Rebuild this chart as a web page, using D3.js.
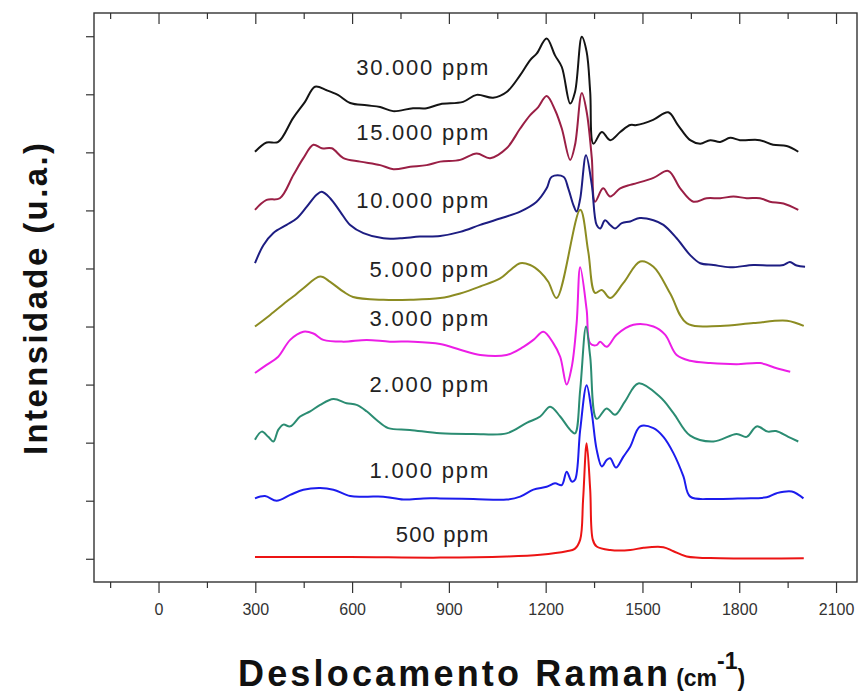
<!DOCTYPE html>
<html>
<head>
<meta charset="utf-8">
<script src="https://cdn.jsdelivr.net/npm/d3@7"></script>
<style>
body { margin: 0; background: #fff; }
svg { display: block; font-family: "Liberation Sans", Arial, sans-serif; }
.axis path { display: none; }
.axis line { stroke: #333; stroke-width: 1.2; }
.axis text { fill: #333; font-size: 16px; }
.spectrum { fill: none; stroke-width: 2; stroke-linejoin: round; }
.conc { fill: #222; font-size: 22px; }
</style>
</head>
<body>
<div id="chart"></div>
<script>
"use strict";

// Raman spectra, [shift (cm-1), intensity above the stacking offset]
var spec_30000 = [[299,0.01],[335,0.17],[371,0.18],[417,0.59],[454,0.87],[485,1.13],[521,1.07],[556,0.99],[594,0.85],[645,0.81],[687,0.78],[727,0.71],[789,0.76],[831,0.76],[873,0.83],[944,0.87],[986,0.99],[1037,0.94],[1079,1.04],[1121,1.33],[1152,1.59],[1172,1.70],[1203,1.96],[1229,1.67],[1250,1.47],[1276,0.84],[1291,1.04],[1312,1.99],[1327,1.73],[1338,1.04],[1348,0.15],[1374,0.35],[1400,0.21],[1431,0.35],[1462,0.47],[1482,0.47],[1533,0.56],[1580,0.69],[1610,0.47],[1648,0.21],[1679,0.15],[1710,0.21],[1741,0.18],[1772,0.25],[1802,0.21],[1864,0.21],[1905,0.13],[1947,0.11],[1983,0.01]];
var spec_15000 = [[299,0.01],[335,0.18],[376,0.21],[418,0.61],[449,0.90],[480,1.13],[506,1.07],[537,1.07],[573,0.90],[625,0.84],[687,0.78],[728,0.71],[780,0.75],[831,0.78],[873,0.84],[935,0.87],[986,0.98],[1028,0.90],[1079,1.07],[1121,1.41],[1152,1.64],[1177,1.78],[1203,1.97],[1229,1.73],[1250,1.41],[1276,0.87],[1291,1.13],[1312,2.02],[1327,1.70],[1343,0.90],[1353,0.15],[1378,0.38],[1400,0.24],[1431,0.38],[1462,0.44],[1482,0.47],[1534,0.56],[1580,0.68],[1617,0.38],[1658,0.15],[1699,0.21],[1741,0.21],[1782,0.24],[1823,0.21],[1864,0.21],[1895,0.15],[1937,0.12],[1983,0.01]];
var spec_10000 = [[299,0.09],[325,0.40],[356,0.61],[397,0.75],[428,0.86],[459,1.06],[490,1.27],[506,1.32],[532,1.21],[563,0.98],[594,0.75],[635,0.61],[697,0.52],[749,0.52],[810,0.55],[873,0.56],[935,0.63],[997,0.75],[1059,0.86],[1121,0.98],[1172,1.15],[1203,1.38],[1219,1.58],[1255,1.58],[1270,1.38],[1286,1.09],[1296,0.98],[1307,1.20],[1325,1.95],[1343,1.44],[1358,0.75],[1369,0.69],[1384,0.83],[1400,0.75],[1415,0.69],[1436,0.78],[1462,0.81],[1492,0.87],[1534,0.83],[1565,0.75],[1606,0.52],[1648,0.23],[1679,0.09],[1720,0.06],[1772,0.02],[1844,0.06],[1895,0.05],[1937,0.06],[1957,0.11],[1978,0.05],[2004,0.03]];
var spec_5000 = [[299,0.00],[346,0.20],[397,0.43],[423,0.54],[449,0.66],[501,0.86],[532,0.77],[573,0.60],[603,0.51],[697,0.46],[780,0.46],[873,0.49],[935,0.57],[997,0.69],[1059,0.83],[1090,0.97],[1121,1.09],[1152,1.06],[1183,0.94],[1208,0.77],[1234,0.49],[1307,2.01],[1332,1.29],[1353,0.58],[1374,0.63],[1400,0.49],[1441,0.75],[1493,1.12],[1534,1.03],[1586,0.57],[1637,0.06],[1741,0.01],[1844,0.06],[1948,0.10],[2000,0.01]];
var spec_3000 = [[299,0.20],[335,0.34],[371,0.48],[408,0.77],[449,0.91],[480,0.88],[511,0.77],[573,0.74],[645,0.77],[717,0.74],[790,0.74],[873,0.70],[935,0.60],[997,0.51],[1079,0.51],[1131,0.65],[1162,0.77],[1193,0.91],[1224,0.71],[1245,0.48],[1265,0.00],[1281,0.31],[1296,1.06],[1307,2.02],[1327,1.29],[1338,0.71],[1358,0.68],[1369,0.74],[1389,0.65],[1420,0.86],[1472,1.03],[1534,1.00],[1570,0.86],[1606,0.51],[1648,0.41],[1710,0.37],[1792,0.35],[1865,0.37],[1916,0.28],[1958,0.22]];
var spec_2000 = [[299,0.05],[320,0.19],[340,0.10],[356,0.02],[371,0.22],[387,0.31],[408,0.28],[439,0.45],[470,0.54],[501,0.65],[542,0.75],[583,0.68],[614,0.65],[645,0.54],[676,0.39],[712,0.25],[779,0.22],[873,0.16],[976,0.15],[1079,0.16],[1141,0.34],[1183,0.45],[1214,0.62],[1245,0.45],[1276,0.22],[1291,0.16],[1307,0.91],[1325,2.00],[1338,1.48],[1358,0.41],[1389,0.59],[1415,0.48],[1446,0.71],[1487,1.02],[1554,0.79],[1596,0.51],[1648,0.12],[1720,0.02],[1792,0.15],[1823,0.10],[1854,0.28],[1889,0.19],[1914,0.20],[1952,0.10],[1983,0.02]];
var spec_1000 = [[299,0.04],[330,0.08],[366,0.00],[408,0.10],[449,0.19],[501,0.22],[542,0.19],[594,0.08],[645,0.07],[697,0.07],[759,0.02],[821,0.04],[873,0.04],[976,0.03],[1079,0.02],[1121,0.07],[1162,0.19],[1203,0.24],[1229,0.30],[1250,0.27],[1265,0.50],[1281,0.33],[1291,0.36],[1307,1.22],[1327,1.99],[1343,1.51],[1358,0.88],[1374,0.59],[1389,0.70],[1400,0.73],[1418,0.57],[1441,0.76],[1462,0.93],[1493,1.28],[1534,1.25],[1565,1.10],[1596,0.82],[1627,0.42],[1648,0.07],[1720,0.03],[1813,0.04],[1885,0.06],[1916,0.13],[1963,0.16],[1999,0.04]];
var spec_500 = [[299,0.03],[594,0.03],[873,0.02],[1079,0.04],[1183,0.07],[1265,0.13],[1290,0.17],[1307,0.33],[1316,1.02],[1327,1.99],[1338,1.19],[1346,0.33],[1358,0.21],[1400,0.15],[1462,0.15],[1503,0.19],[1565,0.20],[1596,0.13],[1637,0.04],[1741,0.01],[2000,0.01]];

var spectra = [spec_30000, spec_15000, spec_10000, spec_5000, spec_3000, spec_2000, spec_1000, spec_500];
var labels = ["30.000 ppm", "15.000 ppm", "10.000 ppm", "5.000 ppm", "3.000 ppm", "2.000 ppm", "1.000 ppm", "500 ppm"];
var offsets = [7, 6, 5, 4, 3, 2, 1, 0];
var colors = ["#141414", "#9a1f45", "#1d1d82", "#8c8c22", "#ec1ee6", "#2b8c72", "#1c1ced", "#ec1414"];

var x_major = [0, 300, 600, 900, 1200, 1500, 1800, 2100];
var x_minor = [-150, 150, 450, 750, 1050, 1350, 1650, 1950];
var y_ticks = [0, 1, 2, 3, 4, 5, 6, 7, 8, 9];

// where the concentration labels sit (right end, height above offset)
var label_shift = 1022;
var label_rise = [1.33, 1.21, 1.04, 0.85, 1.01, 0.88, 0.39, 0.29];

var width = 868, height = 693;
var frame = { left: 94, right: 857, top: 13, bottom: 582 };

var svg = d3.select("#chart")
    .append("svg")
    .attr("width", width)
    .attr("height", height);

var x = d3.scaleLinear().domain([-200, 2165]).range([frame.left, frame.right]);
var y = d3.scaleLinear().domain([-0.4, 9.4]).range([frame.bottom, frame.top]);

function draw_axes() {
    // bottom: ticks outward, labels on majors
    svg.append("g")
        .attr("class", "axis")
        .attr("transform", "translate(0," + frame.bottom + ")")
        .call(d3.axisBottom(x).tickValues(x_major).tickSize(11).tickPadding(11)
            .tickFormat(d3.format("d")));
    svg.append("g")
        .attr("class", "axis")
        .attr("transform", "translate(0," + frame.bottom + ")")
        .call(d3.axisBottom(x).tickValues(x_minor).tickSize(6).tickFormat(""));

    // top: ticks pointing into the frame
    svg.append("g")
        .attr("class", "axis")
        .attr("transform", "translate(0," + frame.top + ")")
        .call(d3.axisBottom(x).tickValues(x_major).tickSize(11).tickFormat(""));
    svg.append("g")
        .attr("class", "axis")
        .attr("transform", "translate(0," + frame.top + ")")
        .call(d3.axisBottom(x).tickValues(x_minor).tickSize(6).tickFormat(""));

    // left: unlabeled ticks outward
    svg.append("g")
        .attr("class", "axis")
        .attr("transform", "translate(" + frame.left + ",0)")
        .call(d3.axisLeft(y).tickValues(y_ticks).tickSize(8).tickFormat(""));

    svg.append("rect")
        .attr("x", frame.left)
        .attr("y", frame.top)
        .attr("width", frame.right - frame.left)
        .attr("height", frame.bottom - frame.top)
        .attr("fill", "none")
        .attr("stroke", "#333")
        .attr("stroke-width", 1.4);
}

function draw_spectra() {
    var line = d3.line()
        .curve(d3.curveCatmullRom.alpha(0.5))
        .x(function(d) { return x(d[0]); });

    spectra.forEach(function(spec, i) {
        line.y(function(d) { return y(d[1] + offsets[i]); });
        svg.append("path")
            .attr("class", "spectrum")
            .attr("stroke", colors[i])
            .attr("d", line(spec));
    });

    svg.selectAll("text.conc")
        .data(labels)
        .enter()
        .append("text")
        .attr("class", "conc")
        .attr("x", x(label_shift))
        .attr("y", function(d, i) { return y(offsets[i] + label_rise[i]); })
        .attr("text-anchor", "end")
        .attr("textLength", function(d) { return d.length * 13.2; })
        .attr("lengthAdjust", "spacing")
        .text(function(d) { return d; });
}

function draw_titles() {
    var xt = svg.append("text")
        .attr("x", 238)
        .attr("y", 686)
        .attr("fill", "#111")
        .attr("font-weight", "bold");
    xt.append("tspan")
        .attr("font-size", "36px")
        .attr("textLength", 430)
        .attr("lengthAdjust", "spacing")
        .text("Deslocamento Raman");
    xt.append("tspan")
        .attr("font-size", "23px")
        .attr("dx", 5)
        .text("(cm");
    xt.append("tspan")
        .attr("font-size", "23px")
        .attr("dy", -17)
        .text("-1");
    xt.append("tspan")
        .attr("font-size", "23px")
        .attr("dy", 17)
        .text(")");

    svg.append("text")
        .attr("transform", "translate(47,299) rotate(-90)")
        .attr("text-anchor", "middle")
        .attr("fill", "#111")
        .attr("font-weight", "bold")
        .attr("font-size", "33px")
        .attr("textLength", 312)
        .attr("lengthAdjust", "spacing")
        .text("Intensidade (u.a.)");
}

draw_axes();
draw_spectra();
draw_titles();
</script>
</body>
</html>
